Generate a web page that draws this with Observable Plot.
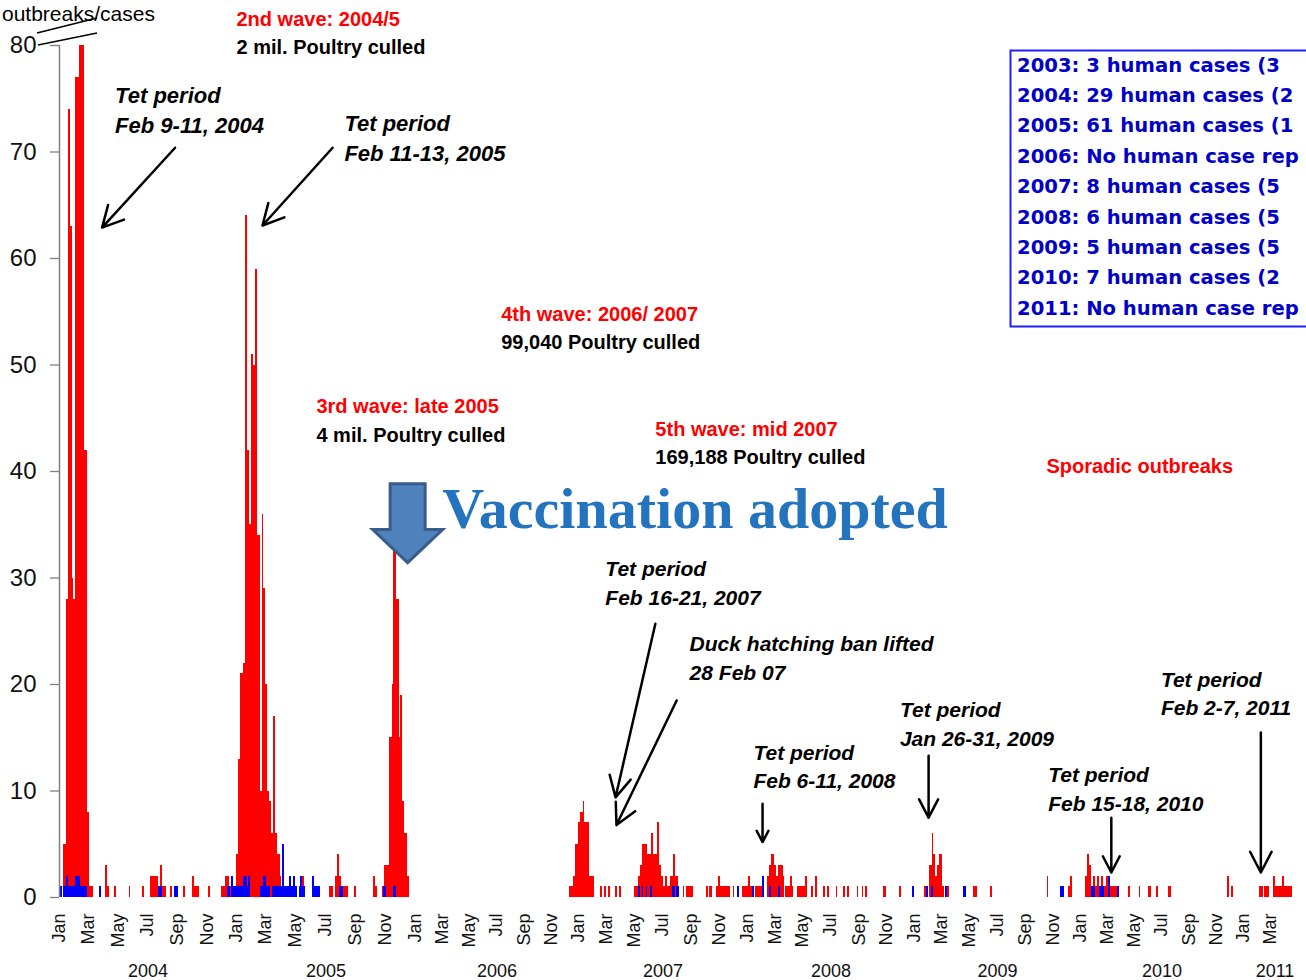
<!DOCTYPE html>
<html>
<head>
<meta charset="utf-8">
<script src="https://cdn.jsdelivr.net/npm/d3@7"></script>
<script src="https://cdn.jsdelivr.net/npm/@observablehq/plot@0.6"></script>
<style>
  html, body { margin: 0; padding: 0; background: #fff; overflow: hidden; }
  #chart svg { display: block; }
</style>
</head>
<body>
<div id="chart"></div>
<script>
// ---------- DATA ----------
const years = [2004, 2005, 2006, 2007, 2008, 2009, 2010, 2011];
const monthTickLabels = ["Jan", "Mar", "May", "Jul", "Sep", "Nov"];
const yTicks = [0, 10, 20, 30, 40, 50, 60, 70, 80];

// Poultry outbreaks: [from day-of-year, to day-of-year, count]
const outbreaks2004 = [[9,14,5],[14,18,28],[18,22,74],[22,26,63],[26,29,30],[29,34,28],[34,41,77],[41,52,80],[52,57,42],[57,62,8],[62,70,1],[95,99,3],[99,103,1],[113,118,1],[144,147,1],[171,175,1],[188,204,2],[208,212,3],[212,222,1],[230,234,1],[256,260,1],[275,279,2],[279,289,1],[309,313,1],[335,344,1],[344,351,2],[351,357,1]];
const outbreaks2005 = [[0,4,4],[4,8,13],[8,14,21],[14,18,22],[18,22,64],[22,26,42],[26,30,35],[30,35,51],[35,39,50],[39,43,59],[43,48,34],[48,52,10],[52,56,36],[56,60,29],[60,64,20],[64,68,10],[68,72,9],[72,76,6],[76,80,17],[80,84,6],[84,89,4],[89,92,2],[134,138,2],[190,197,1],[202,206,2],[206,210,4],[210,214,2],[214,229,1],[241,244,1],[280,284,2],[284,287,1],[298,302,1],[302,311,3],[312,318,15],[318,321,20],[321,326,33],[326,332,28],[332,334,15],[334,339,19],[339,343,9],[343,348,6],[348,353,2]];
const outbreaks2006 = [[345,353,1],[353,359,2],[359,365,5]];
const outbreaks2007 = [[0,4,7],[4,10,8],[10,14,9],[14,23,7],[23,35,2],[48,52,1],[57,60,1],[65,69,1],[80,84,1],[89,93,1],[121,130,1],[130,134,2],[134,138,3],[138,144,5],[144,148,5],[148,153,4],[153,158,4],[158,161,6],[161,170,4],[170,174,7],[174,180,3],[180,184,2],[184,188,1],[188,193,2],[193,199,1],[199,206,2],[206,210,4],[210,217,2],[227,230,1],[233,249,1],[277,281,1],[283,290,1],[298,328,1],[302,307,2],[335,338,1],[354,365,1]];
const outbreaks2008 = [[0,11,1],[3,7,2],[17,36,1],[44,48,2],[48,52,3],[52,59,4],[59,63,3],[63,68,2],[68,74,3],[74,78,3],[78,82,2],[83,101,1],[94,98,2],[109,129,1],[127,131,2],[140,144,1],[149,153,2],[166,171,1],[175,179,1],[195,197,1],[210,214,1],[219,223,1],[240,243,1],[251,254,1],[258,263,1],[299,305,1],[334,338,1]];
const outbreaks2009 = [[22,26,1],[34,39,3],[39,42,6],[42,46,4],[46,51,2],[51,56,3],[56,61,4],[61,66,1],[73,78,1],[130,139,1],[167,172,1],[292,295,2],[339,343,1],[343,347,2]];
const outbreaks2010 = [[12,16,2],[16,20,4],[20,24,3],[24,30,1],[30,34,2],[34,39,1],[39,43,2],[43,47,1],[47,51,2],[51,58,1],[58,63,2],[63,88,1],[108,113,1],[131,134,1],[153,158,1],[170,175,1],[198,203,1],[330,334,2],[339,343,1]];
const outbreaks2011 = [[34,44,1],[45,56,1],[66,71,2],[71,86,1],[86,89,2],[89,108,1]];

// Human cases: [from day-of-year, to day-of-year, count]
const humanCases2004 = [[0,6,1],[8,14,1],[14,19,2],[19,34,1],[34,43,2],[43,57,1],[82,87,1],[204,214,1],[237,246,1],[348,353,1],[356,365,1],[356,360,2]];
const humanCases2005 = [[0,14,1],[14,22,2],[22,24,1],[24,29,2],[49,69,1],[55,61,2],[73,124,1],[94,98,5],[108,112,2],[116,120,2],[128,141,1],[130,135,2],[155,171,1],[155,159,2],[210,218,1],[300,305,1],[321,326,1]];
const humanCases2007 = [[130,134,1],[138,141,1],[147,150,1],[156,160,1],[203,209,1],[212,218,1],[343,348,1]];
const humanCases2008 = [[11,15,1],[33,37,2],[48,52,1],[68,72,1],[361,365,1]];
const humanCases2009 = [[26,31,1],[37,42,1],[68,73,1],[108,114,1],[321,330,1]];
const humanCases2010 = [[24,34,1],[43,54,1],[62,67,2],[82,88,1]];

// Human-case notes, as far as they are visible in the original box
const humanCaseNotes = [
  "2003: 3 human cases (3",
  "2004: 29 human cases (2",
  "2005: 61 human cases (1",
  "2006: No human case rep",
  "2007: 8 human cases (5",
  "2008: 6 human cases (5",
  "2009: 5 human cases (5",
  "2010: 7 human cases (2",
  "2011: No human case rep"
];

// Annotations (anchored in data coordinates: date, value)
const waveLabels = [
  {date: "2005-01-01", value: 82.4, text: "2nd wave: 2004/5"},
  {date: "2005-06-13", value: 46.1, text: "3rd wave: late 2005"},
  {date: "2006-07-12", value: 54.7, text: "4th wave: 2006/ 2007"},
  {date: "2007-06-16", value: 43.9, text: "5th wave: mid 2007"},
  {date: "2009-10-18", value: 40.5, text: "Sporadic outbreaks"}
];
const cullLabels = [
  {date: "2005-01-01", value: 79.8, text: "2 mil. Poultry culled"},
  {date: "2005-06-13", value: 43.4, text: "4 mil. Poultry culled"},
  {date: "2006-07-12", value: 52.1, text: "99,040 Poultry culled"},
  {date: "2007-06-16", value: 41.3, text: "169,188 Poultry culled"}
];
const tetLabelsEarly = [
  {date: "2004-04-25", value: 75.3, text: "Tet period"},
  {date: "2004-04-25", value: 72.4, text: "Feb 9-11, 2004"},
  {date: "2005-08-09", value: 72.6, text: "Tet period"},
  {date: "2005-08-09", value: 69.8, text: "Feb 11-13, 2005"}
];
const tetLabels = [
  {date: "2007-02-28", value: 30.8, text: "Tet period"},
  {date: "2007-02-28", value: 28.1, text: "Feb 16-21, 2007"},
  {date: "2007-08-29", value: 23.8, text: "Duck hatching ban lifted"},
  {date: "2007-08-29", value: 21.1, text: "28 Feb 07"},
  {date: "2008-01-14", value: 13.5, text: "Tet period"},
  {date: "2008-01-14", value: 10.9, text: "Feb 6-11, 2008"},
  {date: "2008-11-30", value: 17.6, text: "Tet period"},
  {date: "2008-11-30", value: 14.9, text: "Jan 26-31, 2009"},
  {date: "2009-10-22", value: 11.5, text: "Tet period"},
  {date: "2009-10-22", value: 8.8, text: "Feb 15-18, 2010"},
  {date: "2010-06-30", value: 20.4, text: "Tet period"},
  {date: "2010-06-30", value: 17.8, text: "Feb 2-7, 2011"}
];
const pointers = [
  {from: "2004-08-27", fromValue: 70.4, to: "2004-03-29", toValue: 62.9},
  {from: "2005-07-16", fromValue: 70.4, to: "2005-02-23", toValue: 63.1},
  {from: "2007-06-16", fromValue: 25.7, to: "2007-03-22", toValue: 9.4},
  {from: "2007-08-01", fromValue: 18.5, to: "2007-03-24", toValue: 6.8},
  {from: "2008-02-03", fromValue: 8.8, to: "2008-02-03", toValue: 5.2},
  {from: "2009-02-01", fromValue: 13.3, to: "2009-02-01", toValue: 7.5},
  {from: "2010-03-11", fromValue: 7.5, to: "2010-03-11", toValue: 2.35},
  {from: "2011-02-08", fromValue: 15.5, to: "2011-02-08", toValue: 2.35}
];
const vaccination = {date: "2006-03-02", value: 36.4, text: "Vaccination adopted", arrowDate: "2005-12-17", arrowTop: 38.8, arrowNeck: 34.5, arrowTip: 31.4};

// ---------- BUILD ----------
const jan1 = y => new Date(Date.UTC(y, 0, 1));
function rows(year, list) {
  return list.map(([a, b, v]) => ({start: d3.utcDay.offset(jan1(year), a), end: d3.utcDay.offset(jan1(year), b), value: v}));
}
const outbreakRows = [
  ...rows(2004, outbreaks2004), ...rows(2005, outbreaks2005), ...rows(2006, outbreaks2006),
  ...rows(2007, outbreaks2007), ...rows(2008, outbreaks2008), ...rows(2009, outbreaks2009),
  ...rows(2010, outbreaks2010), ...rows(2011, outbreaks2011)
];
const humanRows = [
  ...rows(2004, humanCases2004), ...rows(2005, humanCases2005), ...rows(2007, humanCases2007),
  ...rows(2008, humanCases2008), ...rows(2009, humanCases2009), ...rows(2010, humanCases2010)
];

const xEnd = new Date(Date.UTC(2011, 4, 19));
const xDomain = [...years.map(jan1), xEnd];
const xRange = [59, 236, 415, 578, 747, 914, 1080, 1243, 1306];   // uneven year spacing of the original axis

const monthTicks = [];
years.forEach(y => monthTickLabels.forEach((m, i) => {
  const d = new Date(Date.UTC(y, i * 2, 1));
  if (d < new Date(Date.UTC(2011, 3, 1))) monthTicks.push(d);
}));
const yearLabels = years.map((y, i) => {
  const a = jan1(y), b = i < years.length - 1 ? jan1(y + 1) : xEnd;
  return {mid: new Date((+a + +b) / 2), text: String(y)};
});

const toD = s => new Date(s + "T00:00:00Z");
const sans = "'Liberation Sans', Arial, sans-serif";

const plot = Plot.plot({
  width: 1306,
  height: 980,
  marginLeft: 59, marginRight: 0, marginTop: 45, marginBottom: 83,
  style: {fontFamily: sans, background: "#fff", overflow: "hidden"},
  x: {type: "utc", domain: xDomain, range: xRange},
  y: {domain: [0, 80], range: [897, 45]},
  marks: [
    Plot.rect(outbreakRows, {x1: "start", x2: "end", y1: 0, y2: "value", fill: "#ff0000", shapeRendering: "crispEdges"}),
    Plot.rect(humanRows, {x1: "start", x2: "end", y1: 0, y2: "value", fill: "#0000ff", shapeRendering: "crispEdges"}),
    Plot.ruleX([xDomain[0]], {y1: 0, y2: 80, stroke: "#808080", strokeWidth: 1.5}),
    Plot.axisY({ticks: yTicks, tickSize: 9, tickPadding: 14, fontSize: 24, stroke: "#808080", fill: "#111", strokeWidth: 1.3, label: null}),
    Plot.axisX({ticks: monthTicks, tickFormat: d => monthTickLabels[d.getUTCMonth() / 2], tickRotate: -90, tickSize: 0, tickPadding: 16, fontSize: 18, fill: "#111", label: null}),
    Plot.text(yearLabels, {x: "mid", text: "text", frameAnchor: "bottom", dy: 79, fontSize: 18, fill: "#111"}),
    // annotations
    Plot.text(waveLabels, {x: d => toD(d.date), y: "value", text: "text", textAnchor: "start", fill: "#ff0000", fontSize: 20, fontWeight: "bold", ariaLabel: "wave-labels"}),
    Plot.text(cullLabels, {x: d => toD(d.date), y: "value", text: "text", textAnchor: "start", fill: "#000", fontSize: 20, fontWeight: "bold", ariaLabel: "cull-labels"}),
    Plot.text(tetLabelsEarly, {x: d => toD(d.date), y: "value", text: "text", textAnchor: "start", fill: "#000", fontSize: 22, fontWeight: "bold", fontStyle: "italic", ariaLabel: "tet-early"}),
    Plot.text(tetLabels, {x: d => toD(d.date), y: "value", text: "text", textAnchor: "start", fill: "#000", fontSize: 21, fontWeight: "bold", fontStyle: "italic", ariaLabel: "tet-labels"}),
    Plot.arrow(pointers, {x1: d => toD(d.from), y1: "fromValue", x2: d => toD(d.to), y2: "toValue", stroke: "#000", strokeWidth: 2.5, headLength: 14, headAngle: 55}),
    Plot.text([vaccination], {x: d => toD(d.date), y: "value", text: "text", textAnchor: "start", fill: "#2473be", fontSize: 58, fontWeight: "bold", fontFamily: "'Liberation Serif', 'Times New Roman', serif"})
  ]
});

document.getElementById("chart").appendChild(plot);

// ---------- decorations drawn relative to the plot's scales ----------
const svg = d3.select(plot);
svg.select('g[aria-label="wave-labels"]').attr("letter-spacing", "1px");
svg.select('g[aria-label="cull-labels"]').attr("letter-spacing", "0.4px");
svg.select('g[aria-label="tet-early"]').attr("word-spacing", "9px");
svg.select('g[aria-label="tet-labels"]').attr("word-spacing", "6px");

const sx = plot.scale("x"), sy = plot.scale("y");
// block arrow for vaccination
{
  const cx = sx.apply(toD(vaccination.arrowDate));
  const yt = sy.apply(vaccination.arrowTop), yn = sy.apply(vaccination.arrowNeck), yp = sy.apply(vaccination.arrowTip);
  const sw = 17.5, hw = 35;
  svg.append("path")
    .attr("d", `M${cx - sw},${yt}H${cx + sw}V${yn}H${cx + hw}L${cx},${yp}L${cx - hw},${yn}H${cx - sw}Z`)
    .attr("fill", "#4f81bd").attr("stroke", "#385d8a").attr("stroke-width", 3).attr("stroke-linejoin", "miter");
}
// axis break marks at the top of the y axis, and the y-axis title
{
  const ax = sx.apply(xDomain[0]), ay = sy.apply(80);
  [[-22, -12, 38, -27], [-21, 0, 38, -12]].forEach(([a, b, c, d]) => {
    svg.append("line").attr("x1", ax + a).attr("y1", ay + b).attr("x2", ax + c).attr("y2", ay + d)
      .attr("stroke", "#000").attr("stroke-width", 1.5);
  });
  svg.append("text").attr("x", 2).attr("y", 21).attr("text-anchor", "start")
    .attr("font-size", 21).attr("fill", "#000").attr("font-family", sans).text("outbreaks/cases");
}
// human cases box
{
  const g = svg.append("g").attr("text-anchor", "start");
  g.append("rect").attr("x", 1010.5).attr("y", 50.5).attr("width", 330).attr("height", 276)
    .attr("fill", "none").attr("stroke", "#1f1fff").attr("stroke-width", 2);
  humanCaseNotes.forEach((t, i) => {
    g.append("text").attr("x", 1017).attr("y", 64.5 + i * 30.4).attr("dy", "0.36em")
      .attr("text-anchor", "start")
      .attr("font-family", "'DejaVu Sans', Verdana, sans-serif").attr("font-weight", "bold")
      .attr("font-size", 19.6).attr("fill", "#0000c8").text(t);
  });
}
</script>
</body>
</html>
